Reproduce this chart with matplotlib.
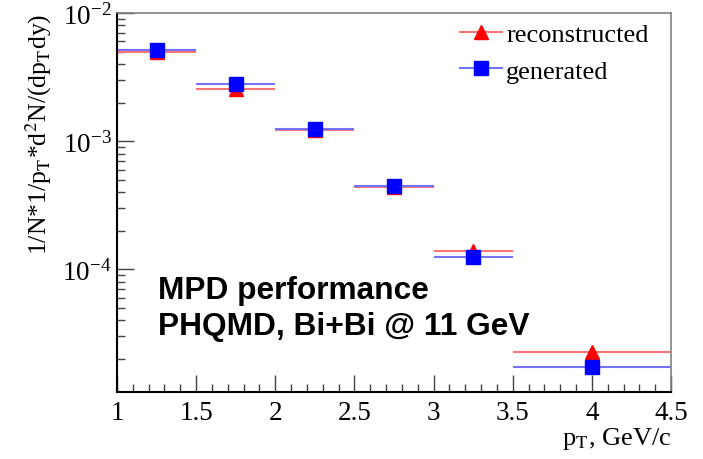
import numpy as np
import matplotlib
matplotlib.use("Agg")
import matplotlib.pyplot as plt
from matplotlib.lines import Line2D
from matplotlib.ticker import MultipleLocator, LogLocator, FixedLocator

plt.rcParams['font.family'] = ['Liberation Serif', 'DejaVu Serif']
plt.rcParams['mathtext.fontset'] = 'stix'

# pT bins (GeV/c)
bin_lo = [1.0, 1.5, 2.0, 2.5, 3.0, 3.5]
bin_hi = [1.5, 2.0, 2.5, 3.0, 3.5, 4.5]
pt_center = [1.25, 1.75, 2.25, 2.75, 3.25, 4.0]

# 1/N * 1/pT * d2N/(dpT dy)
reconstructed = [5.0e-3, 2.55e-3, 1.22e-3, 4.35e-4, 1.39e-4, 2.26e-5]
generated = [5.1e-3, 2.8e-3, 1.25e-3, 4.5e-4, 1.25e-4, 1.71e-5]

x = np.array(pt_center)
xerr = [x - np.array(bin_lo), np.array(bin_hi) - x]

red_line = (1, 0.45, 0.45)
blue_line = (0.45, 0.45, 1)

fig = plt.figure(figsize=(7.03, 4.60), dpi=100)
ax = fig.add_axes([117/703, 1 - 393/460, 554/703, 379/460])

ax.errorbar(x, reconstructed, xerr=xerr, fmt='^', color='red', ms=10,
            ecolor=red_line, elinewidth=1.5, capsize=0)
ax.errorbar(x, generated, xerr=xerr, fmt='s', color='blue', ms=10,
            ecolor=blue_line, elinewidth=1.5, capsize=0)

ax.set_yscale('log')
ax.set_xlim(1, 4.5)
ax.set_ylim(1.1e-5, 1e-2)

ax.xaxis.set_major_locator(MultipleLocator(0.5))
ax.xaxis.set_minor_locator(MultipleLocator(0.1))
ax.xaxis.set_major_formatter(plt.FuncFormatter(lambda v, p: f"{v:g}"))
ax.yaxis.set_major_locator(FixedLocator([1e-4, 1e-3, 1e-2]))
ax.yaxis.set_minor_locator(LogLocator(base=10, subs=np.arange(2, 10)))
ax.yaxis.set_minor_formatter(plt.NullFormatter())
ax.tick_params(which='both', direction='in', top=False, right=False,
               labelsize=19.5, width=1, color='#444444')
ax.tick_params(which='major', length=12)
ax.tick_params(which='minor', length=6)
ax.tick_params(axis='x', pad=6)
ax.tick_params(axis='y', pad=4)

for s in ['left', 'bottom']:
    ax.spines[s].set_color('black')
    ax.spines[s].set_linewidth(1.5)
for s in ['top', 'right']:
    ax.spines[s].set_color('#808080')
    ax.spines[s].set_linewidth(1.2)

ax.set_xlabel(r'p$_{\mathrm{T}}$, GeV/c', fontsize=19, loc='right', labelpad=0)
ax.set_ylabel(r'1/N*1/p$_{\mathrm{T}}$*d$^{2}$N/(dp$_{\mathrm{T}}$dy)',
              fontsize=18.5, loc='top', labelpad=6)

handles = [
    Line2D([], [], color=red_line, marker='^', mfc='red', mec='red', ms=10, lw=1.5),
    Line2D([], [], color=blue_line, marker='s', mfc='blue', mec='blue', ms=10, lw=1.5),
]
ax.legend(handles, ['reconstructed', 'generated'], loc='upper left',
          frameon=False, fontsize=19, handlelength=1.6, handletextpad=0.16,
          labelspacing=0.5, borderpad=0, borderaxespad=0,
          bbox_to_anchor=(0.619, 0.975))

ax.text(0.074, 0.248, 'MPD performance', transform=ax.transAxes,
        fontsize=22.8, fontweight='bold', family='Liberation Sans', va='baseline')
ax.text(0.074, 0.153, 'PHQMD, Bi+Bi @ 11 GeV', transform=ax.transAxes,
        fontsize=22.8, fontweight='bold', family='Liberation Sans', va='baseline')

fig.savefig('out.png', dpi=100)
